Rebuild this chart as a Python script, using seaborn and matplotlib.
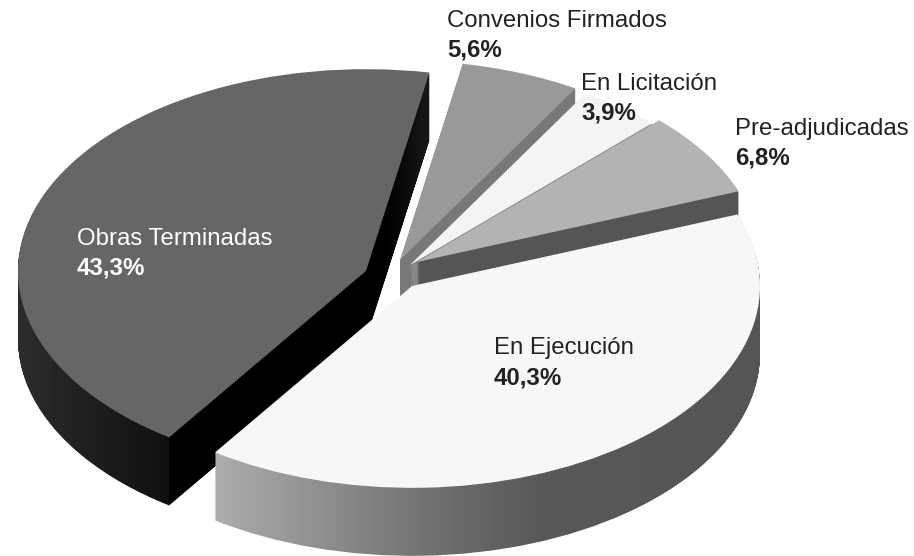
import numpy as np
import seaborn as sns
import matplotlib.pyplot as plt
from matplotlib.path import Path

sns.set_theme(style="white")
plt.rcParams['font.family'] = ['Liberation Sans', 'DejaVu Sans']

labels = ["Obras Terminadas", "En Ejecución", "Pre-adjudicadas", "En Licitación", "Convenios Firmados"]
values = [43.3, 40.3, 6.8, 3.9, 5.6]
pct_labels = ["43,3%", "40,3%", "6,8%", "3,9%", "5,6%"]

# apex of each slice in image pixels (the slices are pulled apart by hand)
apex_x = [366, 412, 417, 410, 400]
apex_y = [271, 286, 262, 265, 260]
radii = [348, 348, 344, 344, 344]
top_grey = ['#666666', '#f7f7f7', '#b3b3b3', '#f4f4f4', '#999999']
text_col = ['white', '#222222', '#222222', '#222222', '#222222']
label_x = [77, 494, 735, 581, 447]
label_y = [245, 354, 135, 90, 27]

# grey of the outer wall against pixel x
wall_stops = {
    0: ([18, 168, 168.5, 385, 430], [45, 15, 0, 0, 25]),
    1: ([213, 330, 460, 540, 760], [172, 140, 105, 88, 85]),
    2: ([0, 914], [85, 85]),
    3: ([0, 914], [135, 135]),
    4: ([0, 914], [120, 120]),
}

W, H = 914, 556
k = 0.58      # squash of the tilted disc
depth = 68

fig = plt.figure(figsize=(W / 100, H / 100), dpi=100)
ax = fig.add_axes([0, 0, 1, 1])


def one_slice(i, drop):
    centre = (apex_x[i], (H - apex_y[i] - drop) / k)
    wedges, _ = ax.pie(values, startangle=79.5, radius=radii[i], center=centre,
                       colors=[top_grey[i]] * 5, wedgeprops={'linewidth': 0, 'edgecolor': 'none'})
    for j, w in enumerate(wedges):
        if j != i:
            w.remove()
    return wedges[i]


z = 1
for i in [4, 3, 2, 0, 1]:
    # wall: every dropped copy of the slice, used as a clip for a grey ramp
    layers = []
    for drop in range(depth, 0, -1):
        w = one_slice(i, drop)
        layers.append(Path(w.get_path().vertices.copy(), w.get_path().codes))
        w.remove()
    xs = np.arange(0, W)
    shade = np.interp(xs, *wall_stops[i]).reshape(1, -1)
    img = ax.imshow(shade, cmap='gray', vmin=0, vmax=255, aspect='auto',
                    extent=(0, W, 0, H / k), zorder=z, interpolation='nearest')
    img.set_clip_path(Path.make_compound_path(*layers), ax.transData)
    top = one_slice(i, 0)
    top.set_zorder(z + 1)
    z += 2

for i, name in enumerate(labels):
    ax.text(label_x[i], (H - label_y[i]) / k, name, fontsize=17.3, color=text_col[i],
            ha='left', va='baseline', zorder=50)
    ax.text(label_x[i], (H - label_y[i] - 30) / k, pct_labels[i], fontsize=17.3, fontweight='bold',
            color=text_col[i], ha='left', va='baseline', zorder=50)

ax.set_xlim(0, W)
ax.set_ylim(0, H / k)
ax.set_aspect('auto')
ax.axis('off')

plt.savefig('out.png', dpi=100)
